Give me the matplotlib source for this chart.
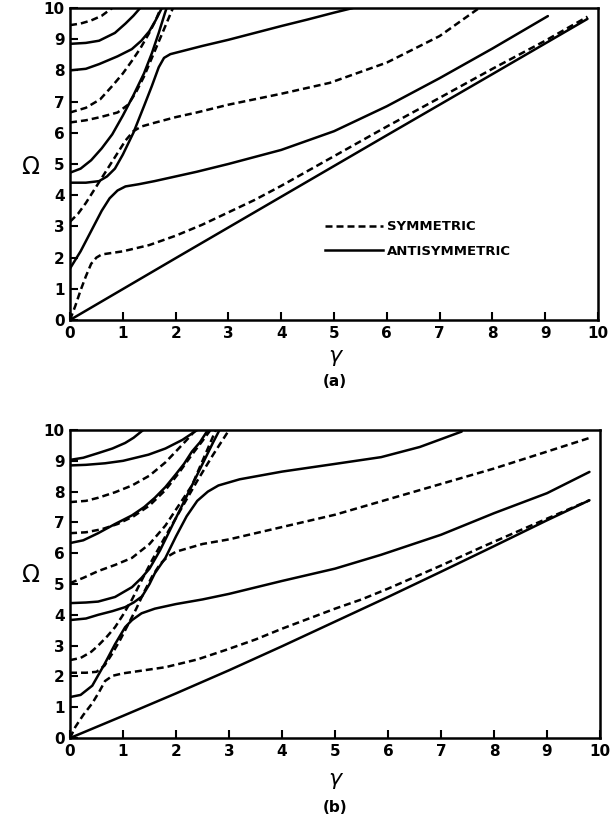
import matplotlib
matplotlib.use('Agg')
import matplotlib.pyplot as plt
from matplotlib.lines import Line2D

# ---- panel (a): antisymmetric modes (solid) ----
a_A0 = [(0, 0), (2, 1.98), (4, 3.95), (6, 5.92), (8, 7.88), (9.8, 9.65)]
a_A1 = [(0, 1.65), (0.2, 2.2), (0.4, 2.85), (0.6, 3.5), (0.75, 3.9), (0.9, 4.15), (1.05, 4.28),
        (1.3, 4.35), (1.6, 4.45), (2.0, 4.6), (2.4, 4.75), (3, 5.0), (4, 5.45), (5, 6.05),
        (6, 6.85), (7, 7.75), (8, 8.7), (9.05, 9.74)]
a_A2 = [(0, 4.4), (0.3, 4.4), (0.55, 4.45), (0.7, 4.6), (0.85, 4.85), (1.0, 5.3), (1.2, 6.0),
        (1.4, 6.85), (1.55, 7.5), (1.68, 8.1), (1.78, 8.4), (1.9, 8.52), (2.2, 8.65), (2.5, 8.78),
        (3, 8.98), (3.5, 9.2), (4, 9.42), (4.5, 9.63), (5, 9.85), (5.36, 10)]
a_A3 = [(0, 4.72), (0.2, 4.85), (0.4, 5.12), (0.6, 5.5), (0.8, 5.95), (1.0, 6.55), (1.2, 7.2),
        (1.4, 7.9), (1.55, 8.55), (1.68, 9.2), (1.8, 9.85), (1.83, 10)]
a_A4 = [(0, 8.0), (0.3, 8.05), (0.55, 8.2), (0.9, 8.45), (1.17, 8.68), (1.35, 8.95), (1.5, 9.25),
        (1.62, 9.6), (1.74, 10)]
a_A5 = [(0, 8.85), (0.3, 8.88), (0.55, 8.95), (0.85, 9.2), (1.05, 9.5), (1.2, 9.75), (1.33, 10)]

# ---- panel (a): symmetric modes (dashed) ----
a_S0 = [(0, 0), (0.1, 0.45), (0.2, 0.95), (0.3, 1.4), (0.4, 1.8), (0.5, 2.0), (0.6, 2.1), (0.8, 2.15),
        (1.0, 2.2), (1.5, 2.4), (2.0, 2.7), (2.5, 3.05), (3, 3.45), (3.5, 3.85), (4, 4.3), (5, 5.25),
        (6, 6.2), (7, 7.12), (8, 8.05), (9, 8.95), (9.8, 9.72)]
a_S1 = [(0, 3.15), (0.15, 3.4), (0.3, 3.75), (0.45, 4.15), (0.6, 4.55), (0.75, 4.95), (0.9, 5.35),
        (1.05, 5.75), (1.2, 6.05), (1.35, 6.2), (1.6, 6.32), (2.0, 6.5), (2.4, 6.65), (3, 6.9),
        (4, 7.25), (4.92, 7.6), (6, 8.25), (7, 9.1), (7.75, 10)]
a_S2 = [(0, 6.33), (0.3, 6.4), (0.57, 6.5), (0.9, 6.65), (1.1, 6.9), (1.25, 7.3), (1.4, 7.8),
        (1.55, 8.4), (1.7, 9.0), (1.85, 9.6), (1.95, 10)]
a_S3 = [(0, 6.65), (0.3, 6.8), (0.57, 7.07), (0.8, 7.5), (1.0, 7.9), (1.17, 8.3), (1.33, 8.7),
        (1.5, 9.2), (1.62, 9.6), (1.72, 10)]
a_S4 = [(0, 9.45), (0.2, 9.5), (0.4, 9.6), (0.6, 9.75), (0.8, 10)]

# ---- panel (b): antisymmetric modes (solid) ----
b_A0 = [(0, 0), (1, 0.72), (2, 1.45), (3, 2.2), (4, 2.98), (5, 3.78), (6, 4.58), (7, 5.4),
        (8, 6.23), (9, 7.07), (9.8, 7.72)]
b_A1 = [(0, 1.33), (0.2, 1.4), (0.42, 1.7), (0.66, 2.43), (0.85, 3.05), (1.04, 3.6), (1.17, 3.83),
        (1.35, 4.05), (1.6, 4.2), (2.0, 4.35), (2.5, 4.5), (3, 4.68), (4, 5.1), (5, 5.5),
        (5.87, 5.95), (7, 6.6), (8, 7.3), (9, 7.95), (9.8, 8.64)]
b_A2 = [(0, 3.83), (0.3, 3.88), (0.53, 4.0), (0.8, 4.12), (1.04, 4.25), (1.2, 4.4), (1.36, 4.6),
        (1.5, 5.0), (1.6, 5.35), (1.8, 5.85), (2.0, 6.55), (2.2, 7.2), (2.4, 7.7), (2.6, 8.0),
        (2.8, 8.2), (3.2, 8.4), (4, 8.65), (5, 8.9), (5.87, 9.12), (6.6, 9.45), (7.39, 9.95)]
b_A3 = [(0, 4.38), (0.3, 4.4), (0.53, 4.43), (0.85, 4.58), (1.17, 4.9), (1.35, 5.2), (1.5, 5.5),
        (1.7, 6.1), (1.9, 6.8), (2.1, 7.5), (2.3, 8.2), (2.5, 8.9), (2.7, 9.6), (2.82, 10)]
b_A4 = [(0, 6.33), (0.25, 6.42), (0.53, 6.65), (0.85, 6.95), (1.17, 7.23), (1.4, 7.5), (1.6, 7.8),
        (1.8, 8.15), (1.99, 8.55), (2.15, 8.9), (2.3, 9.3), (2.45, 9.6), (2.6, 10)]
b_A5 = [(0, 8.85), (0.3, 8.87), (0.66, 8.92), (1.0, 9.0), (1.48, 9.2), (1.8, 9.4), (2.12, 9.68),
        (2.4, 10)]
b_A6 = [(0, 9.03), (0.25, 9.1), (0.53, 9.25), (0.8, 9.4), (1.04, 9.58), (1.2, 9.75), (1.38, 10)]

# ---- panel (b): symmetric modes (dashed) ----
b_S0 = [(0, 0), (0.1, 0.36), (0.25, 0.75), (0.42, 1.13), (0.55, 1.5), (0.66, 1.85), (0.8, 2.02),
        (1.0, 2.1), (1.4, 2.2), (1.8, 2.3), (2.4, 2.55), (2.94, 2.86), (3.5, 3.2), (4, 3.55),
        (5, 4.2), (5.5, 4.5), (6, 4.85), (7, 5.6), (7.77, 6.2), (8.5, 6.75), (9.8, 7.72)]
b_S1 = [(0, 2.12), (0.3, 2.12), (0.5, 2.15), (0.65, 2.35), (0.8, 2.75), (0.95, 3.2), (1.1, 3.7),
        (1.25, 4.2), (1.4, 4.75), (1.55, 5.25), (1.7, 5.65), (1.85, 5.9), (2.0, 6.05), (2.5, 6.3),
        (3, 6.45), (4, 6.85), (5, 7.25), (6, 7.75), (7, 8.25), (8, 8.75), (9, 9.3), (9.85, 9.77)]
b_S2 = [(0, 2.53), (0.2, 2.6), (0.4, 2.8), (0.53, 3.0), (0.7, 3.3), (0.85, 3.6), (1.0, 4.0),
        (1.17, 4.5), (1.36, 5.15), (1.55, 5.78), (1.8, 6.55), (2.1, 7.45), (2.4, 8.35), (2.7, 9.2),
        (3.0, 10)]
b_S3 = [(0, 5.03), (0.25, 5.2), (0.53, 5.42), (0.85, 5.62), (1.17, 5.85), (1.5, 6.3), (1.8, 6.9),
        (2.05, 7.55), (2.3, 8.2), (2.45, 8.8), (2.6, 9.4), (2.75, 10)]
b_S4 = [(0, 6.65), (0.3, 6.68), (0.6, 6.78), (0.9, 6.95), (1.2, 7.2), (1.5, 7.55), (1.8, 8.05),
        (2.05, 8.6), (2.3, 9.2), (2.5, 9.65), (2.65, 10)]
b_S5 = [(0, 7.66), (0.3, 7.7), (0.53, 7.8), (0.85, 7.98), (1.17, 8.2), (1.5, 8.52), (1.8, 8.95),
        (2.05, 9.4), (2.23, 9.73), (2.37, 10)]

ticks = list(range(0, 11))
tick_labels = [str(t) for t in ticks]

LW = 1.8
DASH = (0, (2.8, 1.6))


def draw(ax, solids, dashes):
    for c in solids:
        xs, ys = zip(*c)
        ax.plot(xs, ys, color='black', lw=LW, solid_capstyle='round')
    for c in dashes:
        xs, ys = zip(*c)
        ax.plot(xs, ys, color='black', lw=LW, linestyle=DASH)
    ax.set_xlim(0, 10)
    ax.set_ylim(0, 10)
    ax.set_xticks(ticks)
    ax.set_yticks(ticks)
    ax.set_xticklabels(tick_labels, fontsize=11, fontweight='bold')
    ax.set_yticklabels(tick_labels, fontsize=11, fontweight='bold')
    ax.tick_params(direction='in', length=6, width=1.5, pad=4)
    for s in ax.spines.values():
        s.set_linewidth(1.8)


fig = plt.figure(figsize=(6.1, 8.3), dpi=100)
ax1 = fig.add_axes([0.1148, 0.6145, 0.8656, 0.3759])
ax2 = fig.add_axes([0.1148, 0.1108, 0.8689, 0.3711])

draw(ax1, [a_A0, a_A1, a_A2, a_A3, a_A4, a_A5], [a_S0, a_S1, a_S2, a_S3, a_S4])
draw(ax2, [b_A0, b_A1, b_A2, b_A3, b_A4, b_A5, b_A6], [b_S0, b_S1, b_S2, b_S3, b_S4, b_S5])

handles = [Line2D([], [], color='black', lw=LW, linestyle=DASH),
           Line2D([], [], color='black', lw=LW)]
ax1.legend(handles, ['SYMMETRIC', 'ANTISYMMETRIC'], frameon=False, loc='upper left',
           bbox_to_anchor=(0.47, 0.34), handlelength=4.4, handletextpad=0.3,
           labelspacing=0.85, borderpad=0, prop={'size': 9.5, 'weight': 'bold'})

for y_om, y_g, y_p, lab in [(167, 356, 381, '(a)'), (575, 779, 807, '(b)')]:
    fig.text(30 / 610, 1 - y_om / 830, 'Ω', fontsize=17, ha='center', va='center')
    fig.text(335 / 610, 1 - y_g / 830, 'γ', fontsize=16, fontstyle='italic',
             ha='center', va='center')
    fig.text(335 / 610, 1 - y_p / 830, lab, fontsize=11, fontweight='bold',
             ha='center', va='center')

fig.savefig('out.png', dpi=100)
